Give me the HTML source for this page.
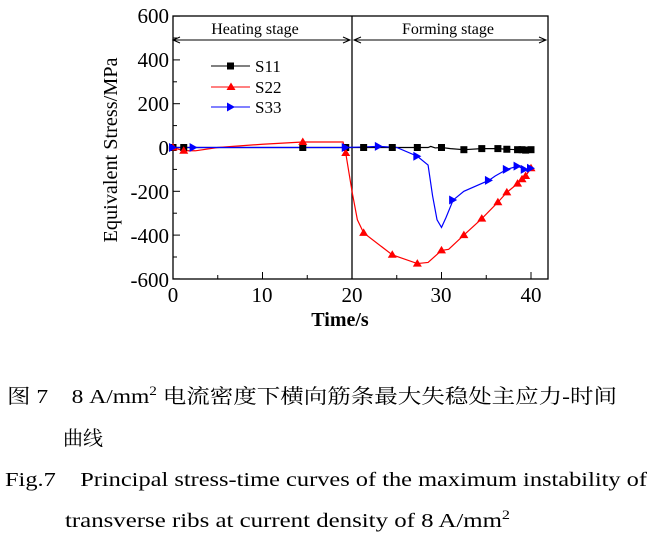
<!DOCTYPE html>
<html><head><meta charset="utf-8"><style>
body{margin:0;background:#fff;width:650px;height:538px;overflow:hidden}
svg{display:block}
text{font-family:"Liberation Serif","Noto Serif CJK SC",serif;fill:#000}
</style></head><body>
<svg id="s" width="650" height="538" xmlns="http://www.w3.org/2000/svg">
<rect x="173" y="16" width="375" height="263" fill="none" stroke="#000" stroke-width="1.3"/>
<line x1="352" y1="16" x2="352" y2="279" stroke="#000" stroke-width="1.3"/>
<g id="ticks" stroke="#000" stroke-width="1"></g>
<g font-size="21" text-anchor="end">
<text x="169" y="23">600</text><text x="169" y="67">400</text><text x="169" y="111">200</text>
<text x="169" y="155">0</text><text x="169" y="199">-200</text><text x="169" y="243">-400</text><text x="169" y="287">-600</text>
</g>
<g font-size="21" text-anchor="middle">
<text x="173" y="302">0</text><text x="262" y="302">10</text><text x="352" y="302">20</text><text x="441" y="302">30</text><text x="531" y="302">40</text>
<text x="340" y="326" font-weight="bold" font-size="20">Time/s</text>
</g>
<text transform="translate(117,150) rotate(-90)" font-size="20" text-anchor="middle" textLength="185" lengthAdjust="spacingAndGlyphs">Equivalent Stress/MPa</text>
<text x="255" y="34" font-size="16" text-anchor="middle">Heating stage</text>
<text x="448" y="34" font-size="16" text-anchor="middle">Forming stage</text>
<g stroke="#000" stroke-width="1" fill="none">
<line x1="173" y1="40" x2="350" y2="40"/><path d="M180,37 L173,40 L180,43 M343,37 L350,40 L343,43"/>
<line x1="354" y1="40" x2="546" y2="40"/><path d="M361,37 L354,40 L361,43 M539,37 L546,40 L539,43"/>
</g>
<g id="plot"></g>
<g font-size="17">
<line x1="211" y1="66" x2="250" y2="66" stroke="#000"/><rect x="227" y="62.5" width="7" height="7"/><text x="255" y="72">S11</text>
<line x1="211" y1="87" x2="250" y2="87" stroke="#f00"/><path d="M231,82.5 L235.5,90 L226.5,90Z" fill="#f00"/><text x="255" y="93">S22</text>
<line x1="211" y1="107" x2="250" y2="107" stroke="#00f"/><path d="M227,102.5 L235,107 L227,111.5Z" fill="#00f"/><text x="255" y="113">S33</text>
</g>
<g font-size="20">
<text x="7" y="403" textLength="610" lengthAdjust="spacingAndGlyphs">图 7　8 A/mm<tspan font-size="13" dy="-8">2</tspan><tspan dy="8"> 电流密度下横向筋条最大失稳处主应力-时间</tspan></text>
<text x="63" y="445">曲线</text>
<text x="5" y="486" textLength="642" lengthAdjust="spacingAndGlyphs">Fig.7　Principal stress-time curves of the maximum instability of</text>
<text x="65" y="527" textLength="445" lengthAdjust="spacingAndGlyphs">transverse ribs at current density of 8 A/mm<tspan font-size="13" dy="-8">2</tspan></text>
</g>
</svg>
<script>
var X=t=>173+t*8.95,Y=v=>147.5-v*0.219,NS="http://www.w3.org/2000/svg";
var p=document.getElementById('plot'),tk=document.getElementById('ticks');
function el(n,a,par){var e=document.createElementNS(NS,n);for(var k in a)e.setAttribute(k,a[k]);(par||p).appendChild(e);return e}
for(var t=0;t<=40;t+=5){el('line',{x1:X(t),y1:279,x2:X(t),y2:t%10?275:272},tk);}
for(var v=-600;v<=600;v+=100){el('line',{x1:173,y1:Y(v),x2:v%200?177:180,y2:Y(v)},tk);}
var s11=[[0,0],[1.2,0],[14.5,0],[19.3,0],[21.3,0],[24.5,0],[27.3,0],[28.5,0],[28.8,5],[29.3,-2],[30,0],[31,-5],[32.5,-10],[34.5,-5],[36.3,-5],[37.3,-8],[38.5,-10],[39,-10],[39.4,-12],[40,-10]];
var m11=[0,1,2,3,4,5,6,10,12,13,14,15,16,17,18,19];
var s22=[[0,0],[1.2,-15],[2.5,-15],[5,0],[10,15],[14.5,25],[19,25],[19.3,-25],[20,-200],[20.6,-330],[21.3,-390],[24.5,-490],[27.3,-530],[28.5,-525],[30,-470],[30.8,-465],[32.5,-400],[34.5,-325],[36.3,-250],[37.3,-205],[38.5,-165],[39,-145],[39.4,-130],[40,-95]];
var m22=[0,1,5,7,10,11,12,14,16,17,18,19,20,21,22,23];
var s33=[[0,0],[2.3,0],[19.3,0],[21,2],[23,5],[25,0],[27.3,-40],[28.5,-80],[29,-220],[29.5,-330],[30,-365],[30.5,-320],[31.3,-240],[32.5,-200],[35.3,-150],[36,-130],[37.3,-100],[38.5,-85],[39.3,-100],[39.6,-110],[40,-95]];
var m33=[0,1,2,4,6,12,14,16,17,18,20];
function line(d,c){el('polyline',{points:d.map(q=>X(q[0])+','+Y(q[1])).join(' '),fill:'none',stroke:c,'stroke-width':1.2})}
line(s11,'#000');line(s22,'#f00');line(s33,'#00f');
m11.forEach(i=>{var x=X(s11[i][0]),y=Y(s11[i][1]);el('rect',{x:x-3.5,y:y-3.5,width:7,height:7,fill:'#000'})});
m22.forEach(i=>{var x=X(s22[i][0]),y=Y(s22[i][1]);el('path',{d:`M${x},${y-4.5} L${x+4.5},${y+3} L${x-4.5},${y+3}Z`,fill:'#f00'})});
m33.forEach(i=>{var x=X(s33[i][0]),y=Y(s33[i][1]);el('path',{d:`M${x-4},${y-4.5} L${x+4},${y} L${x-4},${y+4.5}Z`,fill:'#00f'})});
</script>
</body></html>
